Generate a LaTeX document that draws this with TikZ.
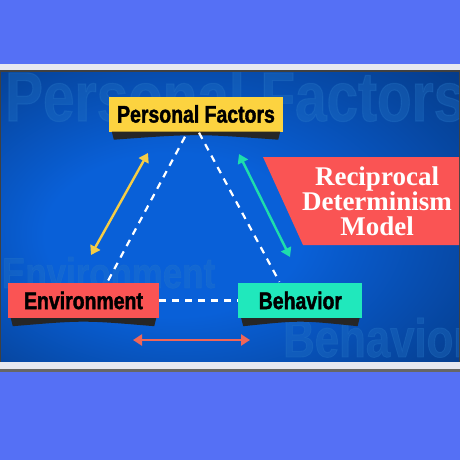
\documentclass[tikz,border=0pt]{standalone}
\usepackage{fontspec}
\usepackage{xcolor}
\usetikzlibrary{positioning,arrows.meta}

\newfontfamily\condfont[FakeStretch=0.81, BoldFeatures={FakeBold=1.6}]{Liberation Sans}
\newfontfamily\titlefont{Liberation Serif}

\definecolor{pagebg}{RGB}{85,112,245}
\definecolor{stripgray}{RGB}{230,232,240}
\definecolor{glow}{RGB}{9,96,216}
\definecolor{navy}{RGB}{4,48,112}
\definecolor{ghostblue}{RGB}{40,120,200}
\definecolor{pfyellow}{RGB}{252,211,64}
\definecolor{envred}{RGB}{250,84,84}
\definecolor{behteal}{RGB}{32,232,188}
\definecolor{arryellow}{RGB}{245,205,70}
\definecolor{arrteal}{RGB}{30,222,172}
\definecolor{arrred}{RGB}{240,102,88}

\pgfdeclareradialshading{panelglow}{\pgfpoint{-8bp}{-4bp}}{color(0bp)=(glow); color(14bp)=(glow); color(46bp)=(navy); color(60bp)=(navy)}

\begin{document}
\begin{tikzpicture}[x=1pt, y=-1pt, >={Triangle[length=9pt,width=11pt]},
  box/.style={inner sep=0pt, minimum height=35pt, text=black,
    font=\condfont\bfseries\fontsize{24}{24}\selectfont},
  boxshadow/.style={fill=black!85},
  link/.style={draw=white, line width=2.2pt, dash pattern=on 7pt off 6pt},
  twoway/.style={<->, line width=2.4pt},
  ghost/.style={text=ghostblue, text opacity=0.3, anchor=base west, inner sep=0pt}]
  \useasboundingbox (0,0) rectangle (460,460);
  \fill[pagebg] (0,0) rectangle (460,460);

  % panel with the big faded words
  \fill[stripgray] (0,64) rectangle (460,71);
  \shade[shading=panelglow] (0,71) rectangle (460,363);
  \draw[black!75, line width=1.5pt] (0,71) rectangle (460,363);
  \fill[stripgray] (0,362) rectangle (460,369);
  \fill[black!60] (0,369) rectangle (460,372);
  \begin{scope}
    \clip (1,72) rectangle (459,362);
    \node[ghost, font=\condfont\bfseries\fontsize{70}{70}\selectfont]
      (ghostpf) at (5,121) {Personal Factors};
    \node[ghost, font=\condfont\bfseries\fontsize{43}{43}\selectfont]
      (ghostenv) at (2,288) {Environment};
    \node[ghost, font=\condfont\bfseries\fontsize{54}{54}\selectfont]
      (ghostbeh) at (283,357) {Behavior};
  \end{scope}

  % the three factors
  \node[box, fill=pfyellow, minimum width=174pt] (pf) at (196,114) {Personal Factors};
  \node[box, fill=envred, minimum width=151pt] (env) at (83.5,300.5) {Environment};
  \node[box, fill=behteal, minimum width=124pt, right=79pt of env] (beh) {Behavior};

  \foreach \b in {pf,env,beh}
    \fill[boxshadow] ([xshift=3pt]\b.south west) -- ([xshift=-3pt]\b.south east)
      -- ([xshift=-5pt,yshift=-8pt]\b.south east)
      .. controls ([yshift=-2pt]\b.south) .. ([xshift=5pt,yshift=-8pt]\b.south west) -- cycle;

  \draw[link] ([xshift=-11pt,yshift=-5pt]pf.south) -- ([xshift=24pt,yshift=1pt]env.north);
  \draw[link] ([xshift=3pt,yshift=-1pt]pf.south) -- ([xshift=-21pt,yshift=1pt]beh.north);
  \draw[link] (env.east) -- (beh.west);

  % two-way influence
  \coordinate (ytop) at (148,153);
  \coordinate (ybot) at (91,255);
  \coordinate (ttop) at (239,154);
  \coordinate (tbot) at (290,257);
  \coordinate (rleft) at (133,340);
  \coordinate (rright) at (250,340);
  \draw[twoway, arryellow] (ytop) -- (ybot);
  \draw[twoway, arrteal] (ttop) -- (tbot);
  \draw[twoway, arrred] (rleft) -- (rright);

  % banner
  \fill[envred] (263,157) -- (459,157) -- (459,245) -- (303,245) -- cycle;
  \node[text=white, align=center, font=\titlefont\bfseries\fontsize{27}{25}\selectfont]
    (title) at (377,201) {Reciprocal\\Determinism\\Model};
\end{tikzpicture}
\end{document}
